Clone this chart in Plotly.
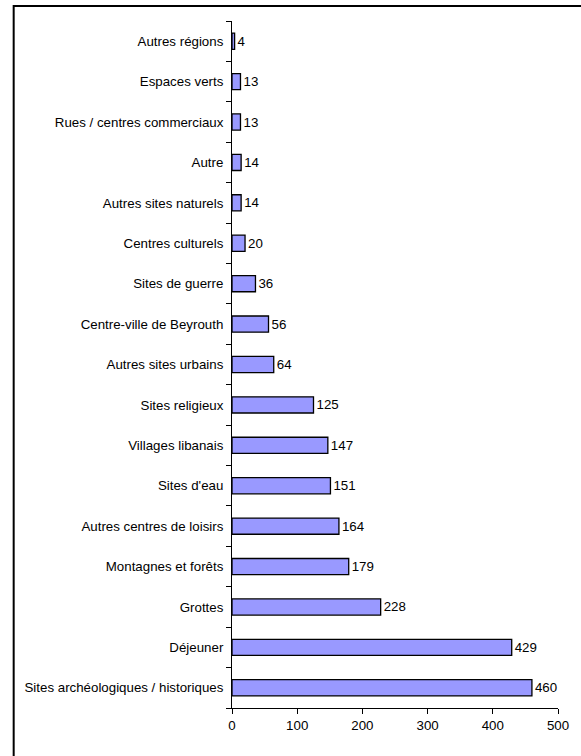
import plotly.graph_objects as go

categories = ['Sites archéologiques / historiques', 'Déjeuner', 'Grottes', 'Montagnes et forêts',
              'Autres centres de loisirs', "Sites d'eau", 'Villages libanais', 'Sites religieux',
              'Autres sites urbains', 'Centre-ville de Beyrouth', 'Sites de guerre', 'Centres culturels',
              'Autres sites naturels', 'Autre', 'Rues / centres commerciaux', 'Espaces verts',
              'Autres régions']
values = [460, 429, 228, 179, 164, 151, 147, 125, 64, 56, 36, 20, 14, 14, 13, 13, 4]
x_ticks = [0, 100, 200, 300, 400, 500]

fig = go.Figure(go.Bar(
    x=values, y=categories, orientation='h',
    marker=dict(color='#9999ff', line=dict(color='black', width=1.3)),
    text=[str(v) for v in values], textposition='outside',
    textfont=dict(size=13.3, color='black'), cliponaxis=False,
))

fig.update_layout(
    width=581, height=756,
    margin=dict(l=232, r=19, t=21, b=48),
    paper_bgcolor='white', plot_bgcolor='white',
    font=dict(family='Liberation Sans, Arial', size=13.3, color='black'),
    bargap=0.6, showlegend=False,
)
fig.update_xaxes(range=[0, 500], tickvals=x_ticks, showgrid=False, zeroline=False,
                 showline=True, linecolor='black', linewidth=1,
                 ticks='outside', ticklen=5, tickcolor='black')
fig.update_yaxes(range=[-0.5, 16.5], showgrid=False, showline=True, linecolor='black',
                 linewidth=1, ticks='outside', ticklen=5, tickcolor='black',
                 tickson='boundaries', ticklabelstandoff=5)

# outer frame of the original chart (extends past the bottom/right edge)
fig.add_shape(type='rect', xref='paper', yref='paper',
              x0=(11 - 232) / 330, x1=1.3, y0=-0.2, y1=1 + (21 - 6) / 687,
              line=dict(color='black', width=2), layer='below')

# drop the default 8px body margin so the figure sits at the page corner
fig.write_html('out.html', config={'displayModeBar': False},
               post_script="document.body.style.margin='0px';")
